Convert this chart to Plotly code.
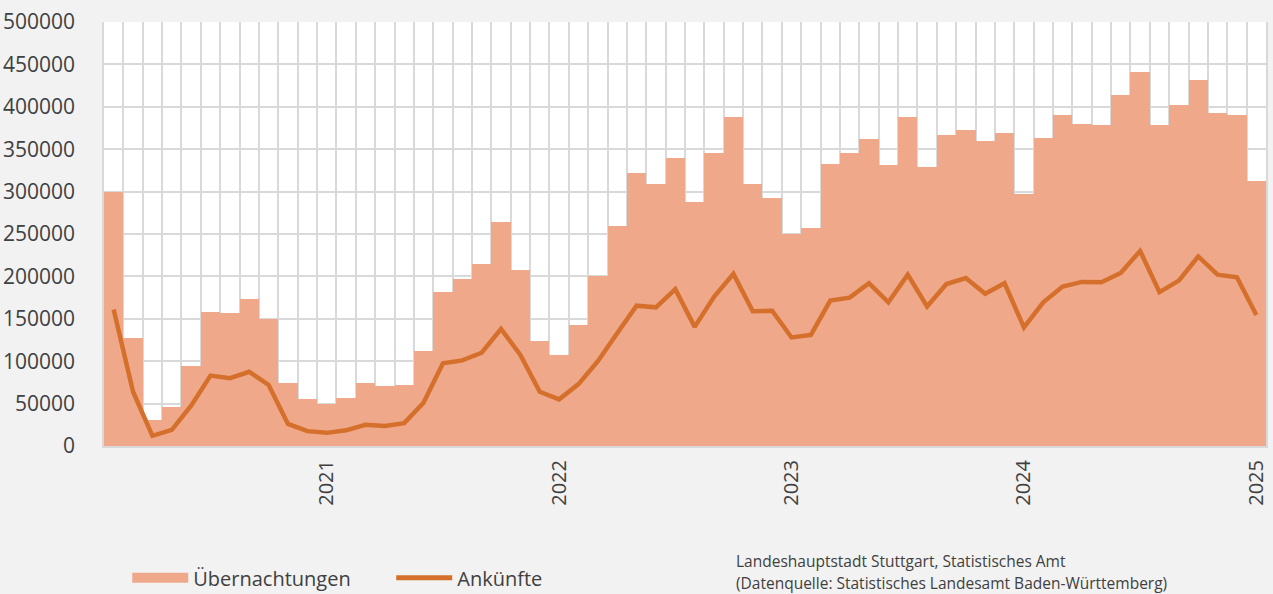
import plotly.graph_objects as go

# Monthly tourism figures for Stuttgart, Feb 2020 - Jan 2025
months = [f"{y}-{m:02d}" for y in range(2020, 2026) for m in range(1, 13)][1:61]

uebernachtungen = [
    300000, 127000, 31000, 45500, 94500, 158500, 157000, 173500, 150000, 74500, 55000, 49500,
    57000, 74500, 71000, 72500, 111500, 182000, 196500, 214500, 264000, 207000, 123500, 107500,
    143000, 200000, 259500, 322500, 309000, 339500, 287500, 346000, 388000, 309500, 293000, 249500,
    257500, 332000, 345500, 361500, 331500, 387500, 329000, 367000, 372500, 359500, 369000, 297500,
    363500, 390000, 380000, 378000, 413500, 441000, 378000, 402500, 431500, 392500, 390000, 313000,
]

ankuenfte = [
    161000, 64000, 12000, 19000, 47500, 83000, 80000, 87500, 72000, 26000, 17500, 15500,
    18500, 25000, 23500, 27000, 51000, 97500, 101000, 110000, 138000, 107500, 64000, 55000,
    73000, 100000, 133000, 165500, 163500, 185000, 140500, 176000, 203000, 159000, 159500, 128000,
    131000, 171500, 175000, 192000, 169500, 202000, 164500, 191000, 198000, 179500, 192000, 140000,
    169500, 188000, 193500, 193000, 204000, 230000, 181500, 195000, 223500, 202000, 199000, 154500,
]

year_ticks = ["2021-01", "2022-01", "2023-01", "2024-01", "2025-01"]
year_labels = ["2021", "2022", "2023", "2024", "2025"]

BAR_COLOR = "#f0a88a"
LINE_COLOR = "#d4702c"
GRID = "#d9d9d9"
TEXT = "#404040"
FONT = "Open Sans"

x = list(range(len(months)))
tick_pos = [months.index(m) for m in year_ticks]

fig = go.Figure()
fig.add_trace(go.Bar(
    x=x, y=uebernachtungen, name="Übernachtungen",
    marker=dict(color=BAR_COLOR, line=dict(width=0)),
    width=1.0, showlegend=False,
))
fig.add_trace(go.Scatter(
    x=x, y=ankuenfte, name="Ankünfte", mode="lines",
    line=dict(color=LINE_COLOR, width=4.5), showlegend=False,
))
# legend entries
fig.add_trace(go.Scatter(
    x=[None], y=[None], mode="lines", name="Übernachtungen",
    line=dict(color=BAR_COLOR, width=17),
))
fig.add_trace(go.Scatter(
    x=[None], y=[None], mode="lines", name="Ankünfte",
    line=dict(color=LINE_COLOR, width=5),
))

fig.update_layout(
    width=1273, height=594,
    margin=dict(l=104, r=7, t=22, b=148, autoexpand=False),
    paper_bgcolor="#f2f2f2", plot_bgcolor="#ffffff",
    bargap=0,
    font=dict(family=FONT, color=TEXT),
    legend=dict(
        orientation="h", x=0.02, y=-0.311, xanchor="left", yanchor="middle",
        font=dict(size=20, color=TEXT), itemwidth=56, entrywidth=193,
        bgcolor="rgba(0,0,0,0)",
    ),
)
fig.update_xaxes(
    automargin=False,
    range=[-0.5, len(months) - 0.5],
    tickmode="array", tickvals=tick_pos, ticktext=year_labels,
    tickangle=-90, tickfont=dict(size=20, color=TEXT, family=FONT),
    showgrid=False, zeroline=False,
    showline=True, linecolor=GRID, linewidth=2,
    ticks="", ticklabelstandoff=4,
    minor=dict(tick0=-0.5, dtick=1, showgrid=True, gridcolor=GRID, gridwidth=1.5, ticks=""),
)
fig.update_yaxes(
    automargin=False,
    range=[0, 500000], dtick=50000, tickformat="d",
    tickfont=dict(size=21, color=TEXT, family=FONT),
    showgrid=True, gridcolor=GRID, gridwidth=1.5,
    showline=True, mirror=True, linecolor=GRID, linewidth=1.5,
    zeroline=False, ticks="", ticklabelstandoff=23,
)

fig.add_annotation(
    text="Landeshauptstadt Stuttgart, Statistisches Amt",
    xref="paper", yref="paper", x=0.542, y=-0.271, xanchor="left", yanchor="middle",
    showarrow=False, font=dict(size=15.5, color=TEXT, family=FONT),
)
fig.add_annotation(
    text="(Datenquelle: Statistisches Landesamt Baden-Württemberg)",
    xref="paper", yref="paper", x=0.542, y=-0.323, xanchor="left", yanchor="middle",
    showarrow=False, font=dict(size=15.5, color=TEXT, family=FONT),
)

fig.write_html("out.html")
